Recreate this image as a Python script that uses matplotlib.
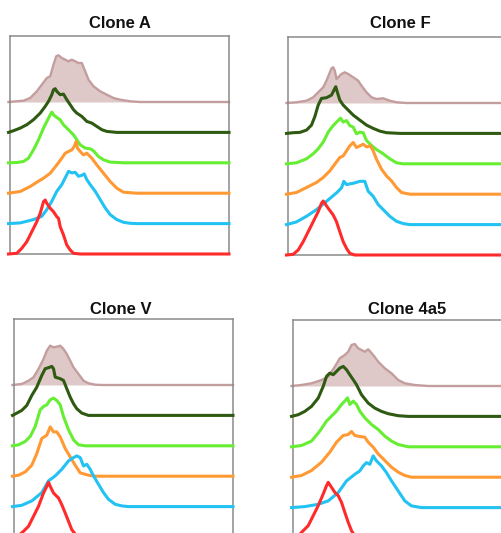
import numpy as np
import matplotlib
matplotlib.use("Agg")
import matplotlib.pyplot as plt

plt.rcParams['font.family'] = ['Liberation Sans', 'DejaVu Sans']

# ---- data: histogram outlines (x = channel, y = count) per clone ----
titles = ["Clone A", "Clone F", "Clone V", "Clone 4a5"]
series_names = ["red", "blue", "orange", "lightgreen", "darkgreen", "control"]

# Clone A
A_control_x = [0, 15, 21.7, 28.3, 33.3, 38.3, 41.7, 45, 47.7, 50, 53.3, 56.7, 60, 63.3, 66.7, 70, 73.3, 76.7, 80, 85, 91.7, 98.3, 105, 111.7, 121.7, 131.7]
A_control_y = [0, 1.3, 4, 10.7, 17.3, 24, 25.7, 37.3, 45.7, 46.7, 44, 42.3, 40.7, 42.3, 40.7, 39, 39, 30.7, 22.3, 15.7, 10.7, 7.3, 4, 2.3, 0.7, 0]
A_dkgreen_x = [0, 5, 11.7, 18.3, 25, 31.7, 36.7, 40, 43.3, 45, 46.7, 48.3, 51.7, 55, 58.3, 61.7, 65, 68.3, 73.3, 78.3, 83.3, 88.3, 93.3, 98.3, 108.3]
A_dkgreen_y = [0, 1.7, 4.3, 7.7, 12.7, 19.3, 26, 31, 37.7, 42.7, 43.7, 41, 37.7, 38.3, 32.7, 27.7, 22.7, 19.3, 16, 11, 9.3, 6, 2.7, 1, 0]
A_ltgreen_x = [0, 8.3, 15, 20, 25, 30, 35, 38.3, 41.7, 43.3, 45, 48.3, 51.7, 55, 60, 65, 68.3, 71.7, 76.7, 81.7, 85, 90, 95, 101.7, 115]
A_ltgreen_y = [0, 0.3, 1.3, 4.7, 13, 23, 34.7, 41.3, 48, 50.7, 48, 45.3, 43, 38, 33, 28, 23, 18, 14.7, 14, 12, 6.3, 3, 0.7, 0]
A_orange_x = [0, 11.7, 21.7, 28.3, 35, 41.7, 48.3, 53.3, 56.7, 60, 63.3, 65.7, 67.7, 69, 71.7, 75, 78.3, 83.3, 88.3, 95, 101.7, 108.3, 115, 128.3]
A_orange_y = [0, 1.7, 6.7, 11, 15, 20, 28.3, 35, 40, 41.7, 43.3, 46.7, 51.7, 45, 41.7, 38.3, 40, 35, 28.3, 20, 11.7, 5, 1, 0]
A_blue_x = [0, 11.7, 25, 33.3, 38.3, 43.3, 48.3, 53.3, 56.7, 60, 63.3, 66.7, 70, 73.3, 75.7, 78.3, 81.7, 86.7, 91.7, 96.7, 101.7, 108.3, 115, 121.7, 128.3]
A_blue_y = [0, 0.7, 4, 7.3, 14, 22.3, 32.3, 39, 45.7, 52.3, 50.7, 51.3, 47.3, 48.3, 49.7, 44, 39, 32.3, 24, 15.7, 9, 4, 1.3, 0.3, 0]
A_red_x = [0, 8.3, 13.3, 18.3, 23.3, 28.3, 31.7, 35, 36.7, 38.3, 41.7, 45, 48.3, 50, 51.7, 55, 58.3, 61.7, 65, 71.7]
A_red_y = [0, 0.7, 5.7, 12.3, 22.3, 32.3, 40.7, 52.3, 54, 50.7, 45.7, 42.3, 37.3, 35.7, 27.3, 19, 9, 4, 0.7, 0]

# Clone F
F_control_x = [0, 10, 20, 26.7, 31.7, 36.7, 40, 42.7, 45, 46.7, 48.3, 50, 51.7, 55, 58.3, 61.7, 66.7, 71.7, 75, 80, 85, 90, 96.7, 103.3, 110, 120]
F_control_y = [0, 0.7, 2.3, 5.7, 10.7, 15.7, 22.3, 29, 34.7, 35.7, 32.3, 24, 25.7, 29, 30.7, 29, 25.7, 22.3, 17.3, 10.7, 5.7, 4, 4.7, 2.3, 0.7, 0]
F_dkgreen_x = [0, 6.7, 13.3, 20, 25, 28.3, 31.7, 35, 40, 45, 48.3, 49.3, 50.7, 53.3, 56.7, 61.7, 66.7, 73.3, 80, 86.7, 93.3, 100, 113.3]
F_dkgreen_y = [0, 0.7, 1, 3.3, 8.3, 16.7, 28.3, 35, 35.7, 38.3, 45, 46.7, 41.7, 33.3, 28.3, 23.3, 18.3, 13.3, 8.3, 5, 2.3, 0.7, 0]
F_ltgreen_x = [0, 10, 20, 26.7, 31.7, 36.7, 41.7, 46.7, 51.7, 54, 56.7, 60, 63.3, 66.7, 70, 73.3, 76.7, 80, 85, 90, 96.7, 103.3, 110, 116.7]
F_ltgreen_y = [0, 1, 5, 10, 15, 21.7, 31.7, 38.3, 43.3, 45.7, 41.7, 43.3, 38.3, 36.7, 30, 31.7, 31, 23.3, 18.3, 14.3, 10, 5, 1, 0]
F_orange_x = [0, 10, 20, 30, 36.7, 43.3, 48.3, 53.3, 56.7, 60, 63.3, 66.7, 70, 73.3, 76.7, 80, 84, 86.7, 90, 95, 100, 105, 110, 115, 123.3]
F_orange_y = [0, 1.7, 6.7, 11.7, 16.7, 23.3, 30, 36.7, 38.3, 43.3, 48.3, 51.7, 46.7, 48.3, 50, 47.3, 48.3, 43.3, 35, 25, 18.3, 13.3, 6.7, 1.7, 0]
F_blue_x = [0, 10, 20, 30, 40, 50, 55, 57.3, 60, 63.3, 68.3, 73.3, 78.3, 81.7, 86.7, 91.7, 96.7, 103.3, 110, 116.7, 123.3]
F_blue_y = [0, 2.7, 8.3, 15, 23.3, 31.7, 36.7, 43.3, 40, 40.7, 41.7, 43.3, 43.3, 33.3, 28.3, 20, 15, 8.3, 3.3, 1, 0]
F_red_x = [0, 6.7, 11.7, 16.7, 21.7, 26.7, 31.7, 35, 36.7, 38.3, 41.7, 46.7, 50, 53.3, 56.7, 60, 63.3, 68.3]
F_red_y = [0, 0.7, 5, 13.3, 23.3, 33.3, 43.3, 51.7, 54, 51.7, 46.7, 40, 33.3, 23.3, 13.3, 6.7, 1.7, 0]

# Clone V
V_control_x = [0, 9.3, 16, 21, 26, 31, 34.3, 37.7, 41, 44.3, 47.7, 51, 54.3, 57.7, 61, 66, 71, 76, 82.7, 89.3]
V_control_y = [0, 1, 4.3, 7.7, 16, 26, 34.3, 39.3, 37.7, 38.3, 39.3, 36, 31, 24.3, 17.7, 11, 4.3, 1.7, 0.3, 0]
V_dkgreen_x = [0, 4.3, 9.3, 14.3, 19.3, 24.3, 29.3, 32.7, 36, 39.3, 41, 42.7, 47.7, 51, 54.3, 57.7, 61, 64.3, 69.3, 76]
V_dkgreen_y = [0, 2.3, 5, 10, 20, 28.3, 40, 46.7, 47.7, 49, 46.7, 38.3, 36.7, 35, 26.7, 18.3, 11.7, 6.7, 2.3, 0]
V_ltgreen_x = [0, 6, 12.7, 17.7, 22.7, 27.7, 31, 34.3, 37.7, 41, 44.3, 47.7, 51, 56, 61, 66, 72.7]
V_ltgreen_y = [0, 1, 4.3, 9.3, 19.3, 36, 39.3, 41, 46, 47.7, 45.3, 41, 29.3, 16, 6, 1, 0]
V_orange_x = [0, 6, 12.7, 19.3, 24.3, 29.3, 34.3, 37.7, 41, 44.3, 47.7, 52.7, 57.7, 62.7, 67.7, 76, 82.7]
V_orange_y = [0, 1, 4.3, 11, 22.7, 37.7, 41, 49.3, 44.3, 44.3, 39.3, 27.7, 19.3, 11, 3.3, 1, 0]
V_blue_x = [0, 9.3, 19.3, 29.3, 36, 42.7, 49.3, 56, 61, 64.3, 67.7, 71, 74.3, 77.7, 81, 86, 91, 96, 102.7, 109.3, 116]
V_blue_y = [0, 1.3, 5.7, 14, 25.7, 30.7, 37.3, 45.7, 49, 50.7, 49, 40.7, 42.3, 37.3, 30.7, 22.3, 14, 7.3, 2.3, 0.7, 0]
V_red_x = [0, 6, 11, 16, 21, 26, 31, 34.3, 36, 37.7, 41, 46, 49.3, 52.7, 56, 59.3, 62.7, 67.7]
V_red_y = [0, 1.5, 5.7, 10.7, 20.7, 30.7, 44, 50.7, 54.7, 50.7, 44, 39, 32.3, 24, 15.7, 7.3, 3, 0]

# Clone 4a5
C_control_x = [0, 10, 20, 30, 36.7, 43.3, 48.3, 53.3, 56.7, 60, 63.3, 66.7, 70, 73.3, 76.7, 81.7, 86.7, 93.3, 100, 106.7, 113.3, 123.3, 136.7]
C_control_y = [0, 1, 2.7, 6, 9.3, 19.3, 27.7, 31, 34.3, 41, 42, 37.7, 36, 34.3, 36.7, 31, 24.3, 17.7, 12.7, 6, 2.7, 1, 0]
C_dkgreen_x = [0, 6.7, 13.3, 20, 26.7, 31.7, 35, 38.3, 41.7, 45, 48.3, 51.7, 55, 58.3, 61.7, 65, 70, 76.7, 83.3, 90, 96.7, 106.7, 116.7]
C_dkgreen_y = [0, 1.7, 5, 10, 18.3, 30, 40, 43.3, 41.7, 45, 48.3, 50, 46.7, 41.7, 36.7, 31.7, 21.7, 13.3, 8.3, 5, 2.7, 0.7, 0]
C_ltgreen_x = [0, 10, 20, 28.3, 35, 40, 45, 50, 53.3, 56, 58.3, 61.7, 65, 68.3, 73.3, 80, 86.7, 93.3, 100, 106.7, 116.7]
C_ltgreen_y = [0, 1.3, 5.7, 15.7, 25.7, 30.7, 35.7, 42.3, 45.7, 49, 42.3, 45.7, 42.3, 35.7, 29, 22.3, 17.3, 10.7, 5.7, 2.3, 0]
C_orange_x = [0, 10, 20, 30, 38.3, 45, 51.7, 56.7, 60, 63.3, 68.3, 73.3, 76.7, 81.7, 86.7, 93.3, 100, 106.7, 113.3, 120]
C_orange_y = [0, 1.7, 6.7, 15, 25, 35, 41.7, 42.7, 45.7, 41.7, 40.7, 40, 35, 30, 23.3, 16.7, 10, 5, 1.7, 0]
C_blue_x = [0, 13.3, 26.7, 36.7, 46.7, 55, 63.3, 68.3, 71.7, 75, 78.3, 81.7, 85, 90, 95, 100, 106.7, 113.3, 120, 130]
C_blue_y = [0, 1, 3.3, 6.7, 15, 26.7, 33.3, 36.7, 41.7, 45, 43.3, 51.7, 46.7, 41.7, 35, 26.7, 16.7, 6.7, 1.7, 0]
C_red_x = [0, 6.7, 11.7, 16.7, 21.7, 26.7, 31.7, 35, 36.7, 40, 43.3, 46.7, 50, 53.3, 56.7, 60, 63.3, 68.3]
C_red_y = [0, 2, 7.3, 12.3, 22.3, 32.3, 44, 52.3, 55.7, 50.7, 45.7, 42.3, 35.7, 25.7, 15.7, 7.3, 2, 0]

panels = [
    [(A_red_x, A_red_y), (A_blue_x, A_blue_y), (A_orange_x, A_orange_y),
     (A_ltgreen_x, A_ltgreen_y), (A_dkgreen_x, A_dkgreen_y), (A_control_x, A_control_y)],
    [(F_red_x, F_red_y), (F_blue_x, F_blue_y), (F_orange_x, F_orange_y),
     (F_ltgreen_x, F_ltgreen_y), (F_dkgreen_x, F_dkgreen_y), (F_control_x, F_control_y)],
    [(V_red_x, V_red_y), (V_blue_x, V_blue_y), (V_orange_x, V_orange_y),
     (V_ltgreen_x, V_ltgreen_y), (V_dkgreen_x, V_dkgreen_y), (V_control_x, V_control_y)],
    [(C_red_x, C_red_y), (C_blue_x, C_blue_y), (C_orange_x, C_orange_y),
     (C_ltgreen_x, C_ltgreen_y), (C_dkgreen_x, C_dkgreen_y), (C_control_x, C_control_y)],
]

# ---- style ----
W, H = 501, 533
colors = ["#ff2b2b", "#22c2f2", "#ff9933", "#66ee33", "#2f5a12", "#c49e9e"]
fill_color = "#dec8c8"
XMAX, YMAX = 219.0, 218.0
STEP = 30.4

# axes boxes in pixels: left, top
boxes = [(10, 36), (288, 37), (14, 319), (293, 320)]
title_pos = [(119.5, 28), (400.5, 28.5), (120.5, 313.5), (407, 313.5)]

fig = plt.figure(figsize=(W / 100, H / 100), dpi=100)
fig.patch.set_facecolor("white")

for (left, top), (tx, ty), title, curves in zip(boxes, title_pos, titles, panels):
    ax = fig.add_axes([left / W, 1 - (top + YMAX) / H, XMAX / W, YMAX / H])
    ax.set_xlim(0, XMAX)
    ax.set_ylim(0, YMAX)
    ax.set_xticks([])
    ax.set_yticks([])
    for s in ax.spines.values():
        s.set_color("#8a8a8a")
        s.set_linewidth(1.1)
    # draw top (control) first, then downwards so lower curves are on top
    for i in range(len(curves) - 1, -1, -1):
        x, y = curves[i]
        x = np.r_[np.asarray(x, float) - 1.5, XMAX]
        y = np.r_[np.asarray(y, float), 0.0] + i * STEP
        if i == len(curves) - 1:
            ax.fill_between(x, i * STEP, y, color=fill_color, lw=0, zorder=1)
            ax.plot(x, y, color=colors[i], lw=1.7, zorder=2, clip_on=False,
                    solid_joinstyle="round")
        else:
            ax.plot(x, y, color=colors[i], lw=2.2, zorder=3 + (len(curves) - i),
                    clip_on=False, solid_joinstyle="round")
    fig.text(tx / W, 1 - ty / H, title, ha="center", va="baseline",
             fontsize=12, fontweight="bold", color="#111111")

fig.savefig("out.png", dpi=100, facecolor="white")
